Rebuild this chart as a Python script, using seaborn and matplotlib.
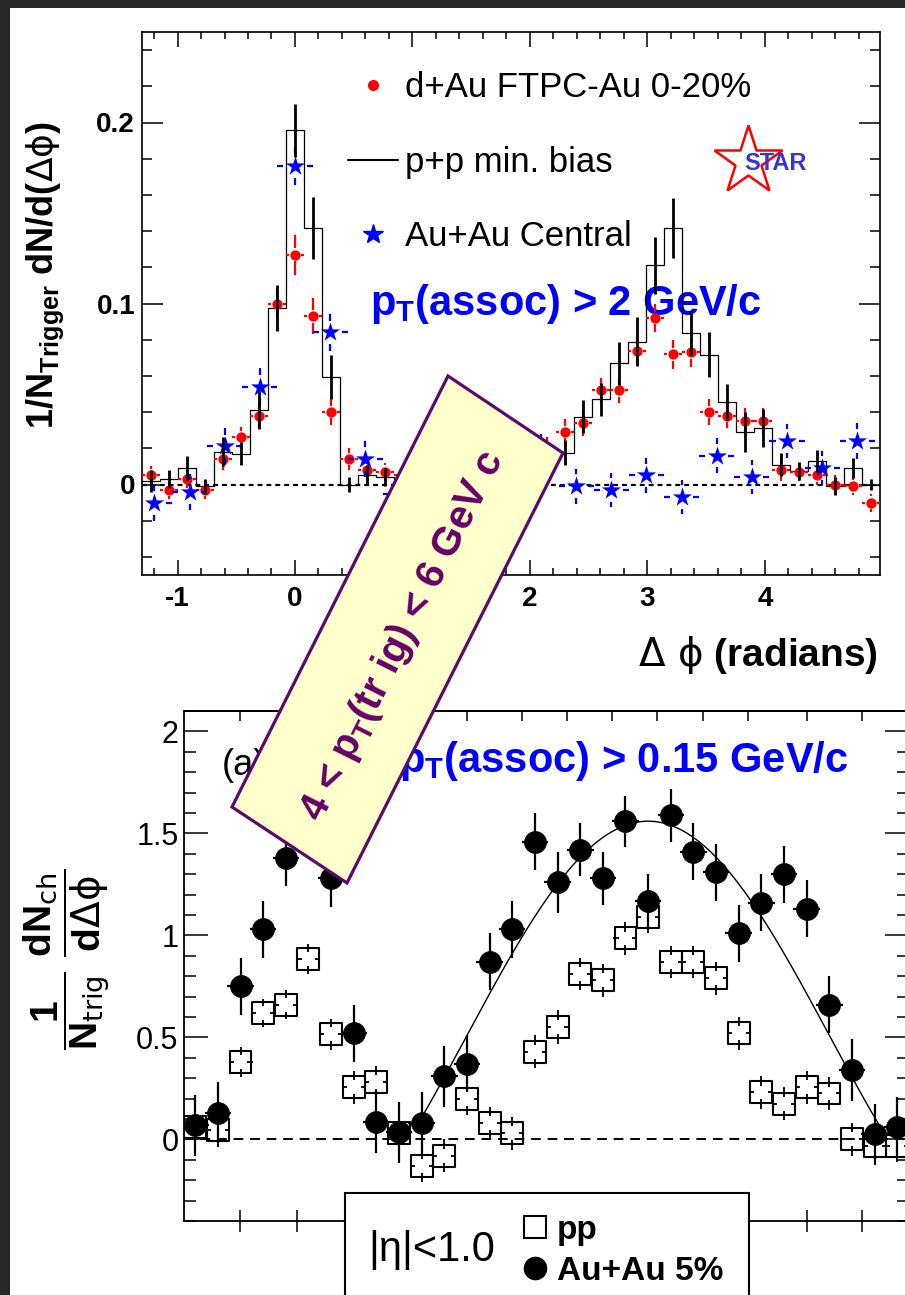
import numpy as np
import matplotlib
matplotlib.use("Agg")
import matplotlib.pyplot as plt
import seaborn as sns
from matplotlib.lines import Line2D
from matplotlib.patches import Polygon, Rectangle
from matplotlib.ticker import MultipleLocator

sns.set_theme(style="white")
plt.rcParams["font.family"] = ["Liberation Sans", "DejaVu Sans"]
plt.rcParams["mathtext.fontset"] = "dejavusans"
plt.rcParams["axes.unicode_minus"] = False
plt.rcParams.update({"text.color": "black", "axes.labelcolor": "black",
                     "xtick.color": "black", "ytick.color": "black",
                     "axes.edgecolor": "black"})

# ---------------- upper panel: pT(assoc) > 2 GeV/c ----------------
dphi_fine = [-1.226, -1.073, -0.920, -0.766, -0.613, -0.460, -0.306, -0.153,
             0.000, 0.153, 0.306, 0.460, 0.613, 0.766, 0.920, 1.073, 1.226,
             1.379, 1.532, 1.686, 1.839, 1.992, 2.146, 2.299, 2.452, 2.605,
             2.759, 2.912, 3.065, 3.218, 3.372, 3.525, 3.678, 3.831, 3.985,
             4.138, 4.291, 4.444, 4.597, 4.751, 4.904]
dau_vals = [0.005, -0.003, 0.003, -0.003, 0.014, 0.026, 0.038, 0.100, 0.127,
            0.093, 0.040, 0.014, 0.008, 0.007, 0.005, 0.004, 0.002, 0.003,
            0.006, 0.008, 0.011, 0.015, 0.020, 0.029, 0.034, 0.052, 0.052,
            0.074, 0.092, 0.072, 0.073, 0.040, 0.038, 0.035, 0.035, 0.008,
            0.007, 0.005, 0.000, -0.001, -0.010]
dau_err = [0.005, 0.005, 0.005, 0.005, 0.006, 0.006, 0.007, 0.008, 0.011,
           0.010, 0.007, 0.006, 0.005, 0.005, 0.005, 0.005, 0.005, 0.005,
           0.005, 0.005, 0.006, 0.006, 0.006, 0.007, 0.007, 0.007, 0.007,
           0.008, 0.008, 0.008, 0.008, 0.007, 0.007, 0.007, 0.007, 0.006,
           0.005, 0.005, 0.005, 0.005, 0.005]
pp_mb_vals = [0.002, 0.003, 0.009, -0.001, 0.018, 0.017, 0.041, 0.0975,
              0.1956, 0.1416, 0.0595, 0.000, 0.0055, 0.004, 0.003, 0.002,
              0.001, 0.000, 0.004, 0.006, 0.010, 0.012, 0.014, 0.0176, 0.0375,
              0.047, 0.067, 0.079, 0.121, 0.1416, 0.0837, 0.0716, 0.0457,
              0.029, 0.031, 0.011, 0.0077, 0.013, -0.001, 0.009, 0.000]
pp_mb_err = [0.006, 0.005, 0.0065, 0.004, 0.008, 0.0065, 0.0105, 0.0125,
             0.0145, 0.017, 0.012, 0.004, 0.005, 0.005, 0.005, 0.005, 0.005,
             0.005, 0.006, 0.006, 0.007, 0.007, 0.007, 0.007, 0.009, 0.009,
             0.012, 0.0135, 0.016, 0.0165, 0.0124, 0.0124, 0.010, 0.011,
             0.0105, 0.0064, 0.005, 0.006, 0.005, 0.0055, 0.003]
dphi_coarse = [-1.197, -0.898, -0.598, -0.299, 0.000, 0.299, 0.598, 0.898,
               1.197, 1.496, 1.795, 2.094, 2.394, 2.693, 2.992, 3.291, 3.590,
               3.890, 4.189, 4.488, 4.787]
auau_c_vals = [-0.010, -0.004, 0.021, 0.054, 0.176, 0.084, 0.014, -0.005,
               0.000, 0.005, -0.003, 0.018, -0.001, -0.003, 0.005, -0.007,
               0.016, 0.004, 0.024, 0.009, 0.024]
auau_c_err = [0.010, 0.010, 0.010, 0.0103, 0.0106, 0.010, 0.010, 0.010,
              0.010, 0.010, 0.010, 0.010, 0.0095, 0.0095, 0.0095, 0.0095,
              0.0095, 0.0095, 0.0095, 0.0095, 0.0099]

top_xticks = [-1, 0, 1, 2, 3, 4]
top_xticklabels = ["-1", "0", "1", "2", "3", "4"]
top_yticks = [0.0, 0.1, 0.2]
top_yticklabels = ["0", "0.1", "0.2"]

# ---------------- lower panel: pT(assoc) > 0.15 GeV/c ----------------
dphi_low = [-0.785, -0.589, -0.393, -0.196, 0.000, 0.196, 0.393, 0.589,
            0.785, 0.982, 1.178, 1.374, 1.571, 1.767, 1.963, 2.160, 2.356,
            2.553, 2.749, 2.945, 3.142, 3.338, 3.534, 3.731, 3.927, 4.123,
            4.320, 4.516, 4.712, 4.909, 5.105, 5.301]
pp_low_vals = [0.06, 0.045, 0.38, 0.62, 0.66, 0.885, 0.515, 0.255, 0.28, 0.03,
               -0.13, -0.08, 0.20, 0.08, 0.03, 0.43, 0.55, 0.81, 0.78, 0.985,
               1.09, 0.87, 0.87, 0.79, 0.52, 0.23, 0.175, 0.255, 0.225, 0.00,
               -0.03, -0.03]
pp_low_err = [0.08, 0.08, 0.075, 0.07, 0.07, 0.075, 0.075, 0.08, 0.08, 0.08,
              0.08, 0.08, 0.08, 0.08, 0.08, 0.08, 0.083, 0.08, 0.08, 0.08,
              0.08, 0.08, 0.08, 0.08, 0.08, 0.08, 0.08, 0.08, 0.08, 0.08,
              0.08, 0.08]
auau5_vals = [0.07, 0.13, 0.75, 1.03, 1.38, 1.55, 1.28, 0.52, 0.085, 0.035,
              0.08, 0.31, 0.37, 0.87, 1.03, 1.46, 1.26, 1.42, 1.28, 1.56,
              1.17, 1.59, 1.41, 1.31, 1.01, 1.16, 1.30, 1.13, 0.66, 0.34,
              0.025, 0.06]
auau5_err = [0.15, 0.15, 0.14, 0.14, 0.14, 0.14, 0.14, 0.14, 0.15, 0.15,
             0.15, 0.15, 0.14, 0.14, 0.14, 0.14, 0.15, 0.13, 0.13, 0.125,
             0.13, 0.13, 0.14, 0.14, 0.14, 0.14, 0.14, 0.14, 0.14, 0.15,
             0.15, 0.15]
# away-side fit: pedestal + amplitude * cos(dphi - pi)
fit_pedestal = 0.51
fit_amplitude = 1.05
fit_halfwidth = 2.02

low_yticks = [0, 0.5, 1, 1.5, 2]
low_yticklabels = ["0", "0.5", "1", "1.5", "2"]
low_xticks = [-0.40, 0.10, 0.60, 1.09, 1.57, 2.05, 2.44, 2.83, 3.22, 3.62,
              4.01, 4.52, 5.00]


def bin_edges(centers):
    c = np.asarray(centers, float)
    d = c[1] - c[0]
    return np.concatenate([[c[0] - d / 2], (c[:-1] + c[1:]) / 2, [c[-1] + d / 2]])


def gapped_errorbars(ax, x, y, xerr, yerr, gap_x, gap_y, **kw):
    """Error bars that leave a small gap around the marker."""
    x = np.asarray(x, float)
    y = np.asarray(y, float)
    xe = np.maximum(np.broadcast_to(np.asarray(xerr, float), x.shape), gap_x)
    ye = np.maximum(np.broadcast_to(np.asarray(yerr, float), y.shape), gap_y)
    ax.vlines(x, y + gap_y, y + ye, **kw)
    ax.vlines(x, y - ye, y - gap_y, **kw)
    ax.hlines(y, x + gap_x, x + xe, **kw)
    ax.hlines(y, x - xe, x - gap_x, **kw)


W, H = 905, 1295
fig = plt.figure(figsize=(W / 100, H / 100), dpi=100, facecolor="#272727")


def fx(px):
    return px / W


def fy(py):
    return 1 - py / H


# white slide panel
fig.patches.append(Rectangle((fx(10), 0), 1 - fx(10), fy(8),
                             transform=fig.transFigure, facecolor="white",
                             edgecolor="none", zorder=-5))

# ======================= upper panel =======================
ax1 = fig.add_axes([fx(142), fy(575), (880 - 142) / W, (575 - 32) / H])
ax1.set_facecolor("white")
edges_fine = bin_edges(dphi_fine)
edges_coarse = bin_edges(dphi_coarse)
ax1.set_xlim(edges_fine[0], edges_fine[-1])
ax1.set_ylim(-0.05, 0.25)

ax1.axhline(0, color="black", lw=1.6, ls=(0, (2.2, 1.8)), zorder=1)

ax1.stairs(pp_mb_vals, edges_fine, baseline=None, color="black", lw=0.9,
           zorder=2)

fine_half = np.diff(edges_fine) / 2
coarse_half = np.diff(edges_coarse) / 2

gapped_errorbars(ax1, dphi_fine, dau_vals, fine_half, dau_err, 0.05, 0.0035,
                 colors="red", lw=1.6, zorder=3)
sns.scatterplot(x=dphi_fine, y=dau_vals, ax=ax1, color="red", marker="o",
                s=55, edgecolor="red", linewidth=0, zorder=4)

gapped_errorbars(ax1, dphi_coarse, auau_c_vals, coarse_half, auau_c_err,
                 0.098, 0.0066, colors="blue", lw=1.6, zorder=4)
sns.scatterplot(x=dphi_coarse, y=auau_c_vals, ax=ax1, color="blue",
                marker="*", s=210, edgecolor="blue", linewidth=0, zorder=5)

ax1.errorbar(dphi_fine, pp_mb_vals, yerr=pp_mb_err, fmt="none",
             ecolor="black", elinewidth=2.0, capsize=0, zorder=6)

ax1.set_xticks(top_xticks, labels=top_xticklabels, fontsize=20,
               fontweight="bold")
ax1.set_yticks(top_yticks, labels=top_yticklabels, fontsize=20,
               fontweight="bold")
ax1.xaxis.set_minor_locator(MultipleLocator(0.2))
ax1.yaxis.set_minor_locator(MultipleLocator(0.02))
ax1.tick_params(which="both", direction="in", top=True, right=True,
                bottom=True, left=True, width=1.1, color="black")
ax1.tick_params(axis="x", which="major", length=11, pad=8)
ax1.tick_params(axis="x", which="minor", length=5)
ax1.tick_params(axis="y", which="major", length=15, pad=5)
ax1.tick_params(axis="y", which="minor", length=7)
for sp in ax1.spines.values():
    sp.set_color("black")
    sp.set_linewidth(1.2)

ax1.set_ylabel(r"1/N$_{\mathregular{Trigger}}$ dN/d($\Delta\mathrm{\phi}$)",
               fontsize=26, fontweight="bold", va="center")
ax1.yaxis.set_label_coords(-0.1314, 0.5525)
ax1.set_xlabel(r"$\Delta\ \mathrm{\phi}$ (radians)", fontsize=28,
               fontweight="bold", ha="right", va="center")
ax1.xaxis.set_label_coords(0.997, -0.147)

top_handles = [
    Line2D([], [], ls="none", marker="o", color="red", ms=7),
    Line2D([], [], color="black", lw=1.5),
    Line2D([], [], ls="none", marker="*", color="blue", ms=15),
]
ax1.legend(top_handles, ["d+Au FTPC-Au 0-20%", "p+p min. bias", "Au+Au Central"],
           loc="upper left", bbox_to_anchor=(0.279, 0.928), frameon=False,
           fontsize=25, handlelength=1.44, handletextpad=0.2,
           labelspacing=1.2, borderpad=0, borderaxespad=0)

ax1.text(0.309, 0.479, r"p$_{\mathregular{T}}$(assoc) > 2 GeV/c",
         transform=ax1.transAxes, fontsize=30, fontweight="bold",
         color="blue", va="baseline", zorder=1)

# STAR logo
ax1.plot([0.821], [0.762], marker="*", ms=52, mfc="none", mec="red", mew=1.8,
         transform=ax1.transAxes, clip_on=False, zorder=7)
ax1.text(0.858, 0.758, "STAR", transform=ax1.transAxes, fontsize=17,
         fontweight="bold", color="#3535d0", ha="center", va="center",
         zorder=8)

# ======================= lower panel =======================
ax2 = fig.add_axes([fx(184), fy(1221), 724.5 / W, (1221 - 711) / H])
ax2.set_facecolor("white")
edges_low = bin_edges(dphi_low)
ax2.set_xlim(edges_low[0], edges_low[-1])
ax2.set_ylim(-0.4, 2.1)

ax2.axhline(0, color="black", lw=1.4, ls=(0, (5, 3.5)), zorder=1)

phi_fit = np.linspace(np.pi - fit_halfwidth, np.pi + fit_halfwidth, 200)
sns.lineplot(x=phi_fit, y=fit_pedestal + fit_amplitude * np.cos(phi_fit - np.pi),
             ax=ax2, color="black", lw=1.0, zorder=2)

gapped_errorbars(ax2, dphi_low, pp_low_vals, 0.104, pp_low_err, 0.06, 0.034,
                 colors="black", lw=1.3, zorder=3)
sns.scatterplot(x=dphi_low, y=pp_low_vals, ax=ax2, marker="s", s=250,
                color="black", facecolor="none", edgecolor="black",
                linewidth=1.5, zorder=4)

ax2.errorbar(dphi_low, auau5_vals, xerr=0.115, yerr=auau5_err, fmt="none",
             ecolor="black", elinewidth=1.6, capsize=0, zorder=4)
sns.scatterplot(x=dphi_low, y=auau5_vals, ax=ax2, marker="o", s=250,
                color="black", edgecolor="black", linewidth=0.5, zorder=5)

ax2.set_yticks(low_yticks, labels=low_yticklabels, fontsize=22)
ax2.yaxis.set_minor_locator(MultipleLocator(0.1))
ax2.set_xticks(low_xticks, labels=[])
ax2.tick_params(axis="y", which="both", direction="in", left=True, right=True,
                width=1.1, color="black")
ax2.tick_params(axis="y", which="major", length=17, pad=4)
ax2.tick_params(axis="y", which="minor", length=8.5)
ax2.tick_params(axis="x", which="major", direction="inout", length=16,
                bottom=True, top=False, width=1.1, color="black")
sec = ax2.secondary_xaxis("top")
sec.set_xticks(low_xticks, labels=[])
sec.tick_params(direction="in", length=7, width=1.1, color="black")
for sp in list(ax2.spines.values()) + list(sec.spines.values()):
    sp.set_color("black")
    sp.set_linewidth(1.3)

ax2.set_ylabel(r"$\dfrac{\mathregular{1}}{\mathregular{N}_{\mathrm{trig}}}"
               r"\ \dfrac{\mathregular{dN}_{\mathrm{ch}}}{\mathregular{d}\Delta\mathrm{\phi}}$",
               fontsize=28, fontweight="bold", va="center")
ax2.yaxis.set_label_coords(-0.1615, 0.512)

ax2.text(0.052, 0.894, "(a)", transform=ax2.transAxes, fontsize=26,
         va="center")
ax2.text(0.297, 0.880, r"p$_{\mathregular{T}}$(assoc) > 0.15 GeV/c",
         transform=ax2.transAxes, fontsize=30, fontweight="bold",
         color="blue", va="baseline")

# legend box below the axis
ax2.add_patch(Rectangle((0.2222, -0.35), 0.78 - 0.2222, 0.0549 + 0.35,
                        transform=ax2.transAxes, facecolor="white",
                        edgecolor="black", lw=1.5, clip_on=False, zorder=7))
ax2.text(0.254, -0.057, "|η|<1.0", transform=ax2.transAxes, fontsize=30,
         va="center", zorder=8)
low_handles = [
    Line2D([], [], ls="none", marker="s", ms=16, mfc="none", mec="black",
           mew=1.5),
    Line2D([], [], ls="none", marker="o", ms=16, mfc="black", mec="black"),
]
leg2 = ax2.legend(low_handles, ["pp", "Au+Au 5%"], loc="upper left",
                  bbox_to_anchor=(0.462, 0.012), frameon=False,
                  prop={"size": 24, "weight": "bold"}, handlelength=1.0,
                  handletextpad=0.15, labelspacing=0.3, borderpad=0,
                  borderaxespad=0)
leg2.set_zorder(8)

# trigger-range label on a tilted note
box = [(448, 376), (563, 453), (347, 883), (232, 807)]
fig.patches.append(Polygon([(fx(x), fy(y)) for x, y in box], closed=True,
                           transform=fig.transFigure, facecolor="#FFFFCC",
                           edgecolor="#5A0A6B", lw=2.3, zorder=10))
fig.text(fx(403), fy(636), r"4 < p$_{\mathregular{T}}$(tr ig) < 6 GeV c",
         rotation=63.4, rotation_mode="anchor", ha="center", va="center",
         fontsize=29, fontweight="bold", color="#660066", zorder=11)

fig.savefig("out.png", dpi=100, facecolor=fig.get_facecolor())
